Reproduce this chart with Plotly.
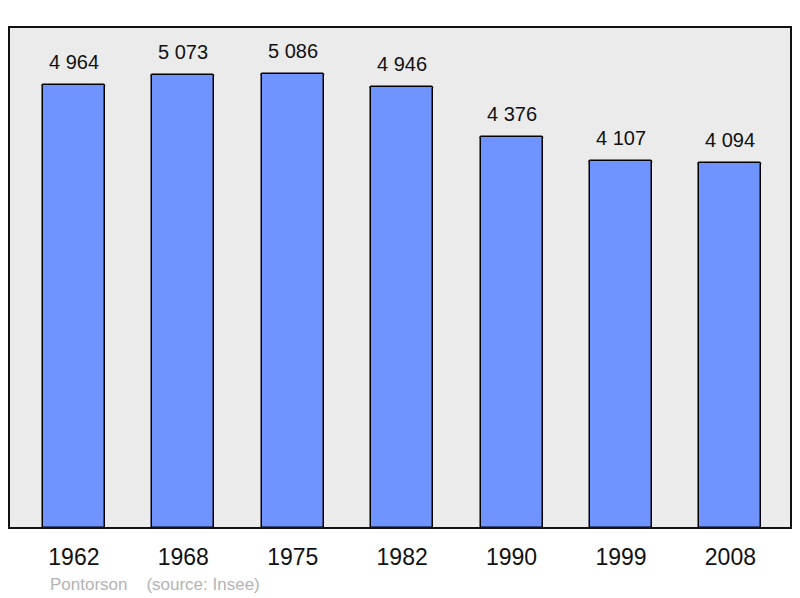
import plotly.graph_objects as go

years = ["1962", "1968", "1975", "1982", "1990", "1999", "2008"]
population = [4964, 5073, 5086, 4946, 4376, 4107, 4094]
value_labels = ["4 964", "5 073", "5 086", "4 946", "4 376", "4 107", "4 094"]

xs = list(range(len(years)))
FONT = "Liberation Sans, Arial, sans-serif"

fig = go.Figure()
fig.add_trace(go.Bar(
    x=xs, y=population, width=0.567,
    marker=dict(color="#7094FF", line=dict(color="#000000", width=1.5), cornerradius=2),
    hoverinfo="skip",
))

for x, v, t in zip(xs, population, value_labels):
    fig.add_annotation(x=x, y=v, text=t, showarrow=False, xref="x", yref="y",
                       yanchor="bottom", yshift=10,
                       font=dict(family=FONT, size=20, color="#111111"))

fig.add_shape(type="rect", xref="paper", yref="paper", x0=0, x1=1, y0=0, y1=1,
              line=dict(color="#111111", width=2))

fig.add_annotation(text="Pontorson    (source: Insee)", xref="paper", yref="paper",
                   x=(48 - 9) / 782, y=-(584 - 528) / 501, xanchor="left", yanchor="middle",
                   showarrow=False,
                   font=dict(family=FONT, size=17, color="#B3B3B3"))

fig.update_layout(
    width=800, height=598,
    margin=dict(l=9, r=9, t=27, b=70),
    paper_bgcolor="#FFFFFF", plot_bgcolor="#EBEBEB",
    showlegend=False,
    bargap=0,
    xaxis=dict(range=[-0.593, 6.554], tickvals=xs, ticktext=years, showgrid=False,
               zeroline=False, ticks="outside", ticklen=8, tickcolor="rgba(0,0,0,0)",
               tickfont=dict(family=FONT, size=23, color="#111111")),
    yaxis=dict(range=[0, 5614], showgrid=False, zeroline=False, showticklabels=False, ticks=""),
)

fig.write_html("out.html", config={"displayModeBar": False},
               post_script="document.body.style.margin='0';")
